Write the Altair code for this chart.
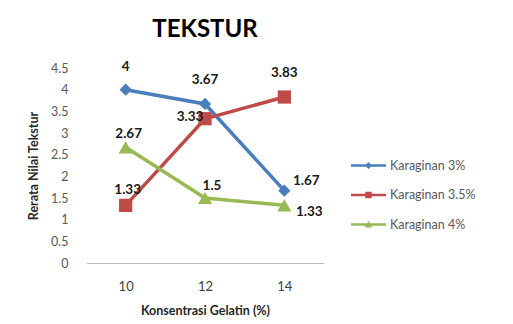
import altair as alt
import pandas as pd

categories = ["10", "12", "14"]
series_names = ["Karaginan 3%", "Karaginan 3.5%", "Karaginan 4%"]
karaginan_3 = [4.0, 3.67, 1.67]
karaginan_35 = [1.33, 3.33, 3.83]
karaginan_4 = [2.67, 1.5, 1.33]
label_texts = [["4", "3.67", "1.67"], ["1.33", "3.33", "3.83"], ["2.67", "1.5", "1.33"]]
y_ticks = [0, 0.5, 1, 1.5, 2, 2.5, 3, 3.5, 4, 4.5]

colors = ["#4A7EBB", "#BE4B48", "#98B954"]
markers = ["diamond", "square", "triangle-up"]
marker_sizes = [150, 200, 170]
legend_paths = [
    "M-1.4,-0.1H1.4V0.1H-1.4Z M0,-0.28L0.28,0L0,0.28L-0.28,0Z",
    "M-1.4,-0.1H1.4V0.1H-1.4Z M-0.26,-0.26H0.26V0.26H-0.26Z",
    "M-1.4,-0.1H1.4V0.1H-1.4Z M0,-0.28L0.3,0.24L-0.3,0.24Z",
]

rows = []
for s, vals, labs in zip(series_names, [karaginan_3, karaginan_35, karaginan_4], label_texts):
    for c, v, t in zip(categories, vals, labs):
        rows.append({"x": c, "y": v, "series": s, "label": t})
df = pd.DataFrame(rows)

# label nudges (pixels) per (series index, category index)
nudges = {
    (0, 0): (0, -23), (0, 1): (0, -24), (0, 2): (22, -10),
    (1, 0): (2, -15), (1, 1): (-15, -2), (1, 2): (0, -24),
    (2, 0): (3, -13), (2, 1): (7, -12), (2, 2): (25, 7),
}

FONT = "Lato"

x_enc = alt.X("x:O", sort=categories,
              scale=alt.Scale(type="point", padding=0.5),
              axis=alt.Axis(title="Konsentrasi Gelatin (%)", labelAngle=0, ticks=False,
                            domainColor="#BFBFBF", domainWidth=1, labelPadding=17,
                            labelFontSize=13, labelColor="#404040", titleFontSize=12.5,
                            titleFontWeight="bold", titleColor="#262626", titlePadding=11,
                            labelFont=FONT, titleFont=FONT))
y_enc = alt.Y("y:Q", scale=alt.Scale(domain=[0, 4.5], nice=False),
              axis=alt.Axis(title="Rerata Nilai Tekstur", values=y_ticks, format="~g",
                            grid=False, domain=False, ticks=False, labelPadding=18,
                            labelFontSize=12.5, labelColor="#595959", titleFontSize=12.5,
                            titleFontWeight="bold", titleColor="#262626", titlePadding=10,
                            labelFont=FONT, titleFont=FONT))
color_scale = alt.Scale(domain=series_names, range=colors)

base = alt.Chart(df)

lines = base.mark_line(strokeWidth=3.5).encode(
    x=x_enc, y=y_enc,
    color=alt.Color("series:N", scale=color_scale, legend=None),
    detail="series:N",
)

points = base.mark_point(filled=True, opacity=1).encode(
    x=x_enc, y=y_enc,
    color=alt.Color("series:N", scale=color_scale, legend=None),
    shape=alt.Shape("series:N", scale=alt.Scale(domain=series_names, range=markers), legend=None),
    size=alt.Size("series:N", scale=alt.Scale(domain=series_names, range=marker_sizes), legend=None),
)

leg = dict(title=None, orient="none", legendX=269, legendY=84,
           symbolSize=625, labelFontSize=12.5, labelColor="#595959",
           labelFont=FONT, labelOffset=8, rowPadding=9.5, padding=0)

legend_layer = base.mark_point(filled=True, opacity=1).encode(
    x=x_enc, y=y_enc,
    size=alt.value(0),
    color=alt.Color("series:N", scale=color_scale, legend=alt.Legend(**leg)),
    shape=alt.Shape("series:N", scale=alt.Scale(domain=series_names, range=legend_paths),
                    legend=alt.Legend(**leg)),
)

text_layers = []
for (si, ci), (dx, dy) in nudges.items():
    t = base.transform_filter(
        (alt.datum.series == series_names[si]) & (alt.datum.x == categories[ci])
    ).mark_text(fontWeight="bold", fontSize=13.5, color="#1a1a1a", font=FONT,
                dx=dx, dy=dy).encode(x=x_enc, y=y_enc, text="label:N")
    text_layers.append(t)

chart = alt.layer(lines, points, legend_layer, *text_layers).resolve_scale(
    shape="independent", size="independent"
).resolve_legend(color="independent", shape="independent", size="independent").properties(
    width=238, height=195,
    title=alt.TitleParams("TEKSTUR", fontSize=24, fontWeight="bold", font=FONT,
                          color="#000000", anchor="middle", offset=18),
    autosize=alt.AutoSizeParams(type="none"),
    padding={"left": 86, "top": 68, "right": 189, "bottom": 61},
    background="white",
).configure_view(stroke=None)

chart.save("out.html", embed_options={"renderer": "svg", "actions": False})
